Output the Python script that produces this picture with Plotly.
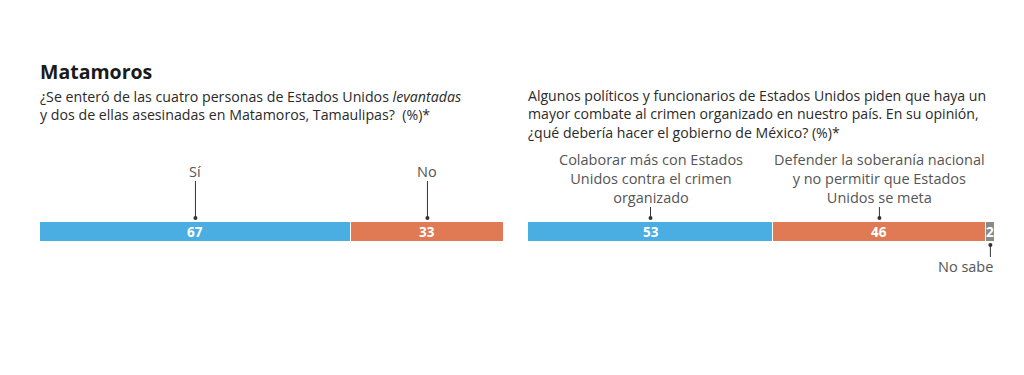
import plotly.graph_objects as go

W, H = 1024, 375
OFF = 8  # page body margin

# ---- data ----
left_categories = ["Sí", "No"]
left_values = [67, 33]
right_categories = ["Colaborar más con Estados<br>Unidos contra el crimen<br>organizado",
                    "Defender la soberanía nacional<br>y no permitir que Estados<br>Unidos se meta",
                    "No sabe"]
right_values = [53, 46, 2]
left_colors = ["#4aaee3", "#e07a55"]
right_colors = ["#4aaee3", "#e07a55", "#8a8a8a"]

title = "<b>Matamoros</b>"
left_question = "¿Se enteró de las cuatro personas de Estados Unidos <i>levantadas</i><br>y dos de ellas asesinadas en Matamoros, Tamaulipas?  (%)*"
right_question = ("Algunos políticos y funcionarios de Estados Unidos piden que haya un<br>"
                  "mayor combate al crimen organizado en nuestro país. En su opinión,<br>"
                  "¿qué debería hacer el gobierno de México? (%)*")

FONT = "Open Sans"

def py(pix):
    return (H - (pix - OFF)) / H

def px(pix):
    return (pix - OFF) / W

fig = go.Figure()

def add_bars(cats, vals, colors, xaxis):
    for c, v, col in zip(cats, vals, colors):
        fig.add_trace(go.Bar(
            x=[v], y=[0], orientation="h", marker=dict(color=col, line=dict(color="white", width=1)),
            xaxis=xaxis, yaxis="y" if xaxis == "x" else "y2", showlegend=False,
            hoverinfo="skip"))

add_bars(left_categories, left_values, left_colors, "x")
add_bars(right_categories, right_values, right_colors, "x2")

annotations = []
shapes = []

def centers(vals):
    out, s = [], 0
    for v in vals:
        out.append(s + v / 2)
        s += v
    return out

# value labels
for xref, vals in (("x", left_values), ("x2", right_values)):
    for cx, v in zip(centers(vals), vals):
        annotations.append(dict(x=cx, y=py(232), xref=xref, yref="paper", text=f"<b>{v}</b>",
                                showarrow=False, font=dict(family=FONT, size=13.5, color="white"),
                                xanchor="center", yanchor="middle"))

LBL = dict(family=FONT, size=14.5, color="#555555")
DOT = "#333333"
# left category labels
for cx, cat in zip(centers(left_values), left_categories):
    annotations.append(dict(x=cx, y=py(171), xref="x", yref="paper", text=cat, showarrow=False,
                            font=LBL, xanchor="center", yanchor="middle"))
    shapes.append(dict(type="line", xref="x", yref="paper", x0=cx, x1=cx, y0=py(181), y1=py(218),
                       line=dict(color=DOT, width=1)))
    shapes.append(dict(type="circle", xref="x", yref="paper", xsizemode="pixel", ysizemode="pixel",
                       xanchor=cx, yanchor=py(218), x0=-2, x1=2, y0=-2, y1=2,
                       fillcolor=DOT, line=dict(width=0)))

# right category labels
rc = centers(right_values)
for i in range(2):
    annotations.append(dict(x=rc[i], y=py(179), xref="x2", yref="paper", text=right_categories[i],
                            showarrow=False, font=LBL, xanchor="center", yanchor="middle", align="center"))
    shapes.append(dict(type="line", xref="x2", yref="paper", x0=rc[i], x1=rc[i], y0=py(207), y1=py(218),
                       line=dict(color=DOT, width=1)))
    shapes.append(dict(type="circle", xref="x2", yref="paper", xsizemode="pixel", ysizemode="pixel",
                       xanchor=rc[i], yanchor=py(218), x0=-2, x1=2, y0=-2, y1=2,
                       fillcolor=DOT, line=dict(width=0)))
# "No sabe"
annotations.append(dict(x=sum(right_values), y=py(266), xref="x2", yref="paper", text=right_categories[2],
                        showarrow=False, font=LBL, xanchor="right", yanchor="middle"))
shapes.append(dict(type="line", xref="x2", yref="paper", x0=rc[2], x1=rc[2], y0=py(245), y1=py(257),
                   line=dict(color=DOT, width=1)))
shapes.append(dict(type="circle", xref="x2", yref="paper", xsizemode="pixel", ysizemode="pixel",
                   xanchor=rc[2], yanchor=py(245), x0=-2, x1=2, y0=-2, y1=2,
                   fillcolor=DOT, line=dict(width=0)))

# titles
annotations.append(dict(x=px(38), y=py(72), xref="paper", yref="paper", text=title, showarrow=False,
                        font=dict(family=FONT, size=19.5, color="#1a1a1a"), xanchor="left", yanchor="middle"))
annotations.append(dict(x=px(38), y=py(105), xref="paper", yref="paper", text=left_question, showarrow=False,
                        font=dict(family=FONT, size=14.2, color="#2a2a2a"), xanchor="left", yanchor="middle",
                        align="left"))
annotations.append(dict(x=px(526), y=py(114), xref="paper", yref="paper", text=right_question, showarrow=False,
                        font=dict(family=FONT, size=14.1, color="#2a2a2a"), xanchor="left", yanchor="middle",
                        align="left"))

axis_common = dict(showgrid=False, zeroline=False, showticklabels=False, showline=False, fixedrange=True)
fig.update_layout(
    width=W, height=H, margin=dict(l=0, r=0, t=0, b=0),
    paper_bgcolor="white", plot_bgcolor="white",
    barmode="stack", bargap=0,
    xaxis=dict(domain=[px(40), px(504)], range=[0, sum(left_values)], **axis_common),
    xaxis2=dict(domain=[px(528), px(995)], range=[0, sum(right_values)], **axis_common),
    yaxis=dict(domain=[py(242), py(222)], range=[-0.5, 0.5], anchor="x", **axis_common),
    yaxis2=dict(domain=[py(242), py(222)], range=[-0.5, 0.5], anchor="x2", **axis_common),
    annotations=annotations, shapes=shapes,
)

fig.write_html("out.html")
